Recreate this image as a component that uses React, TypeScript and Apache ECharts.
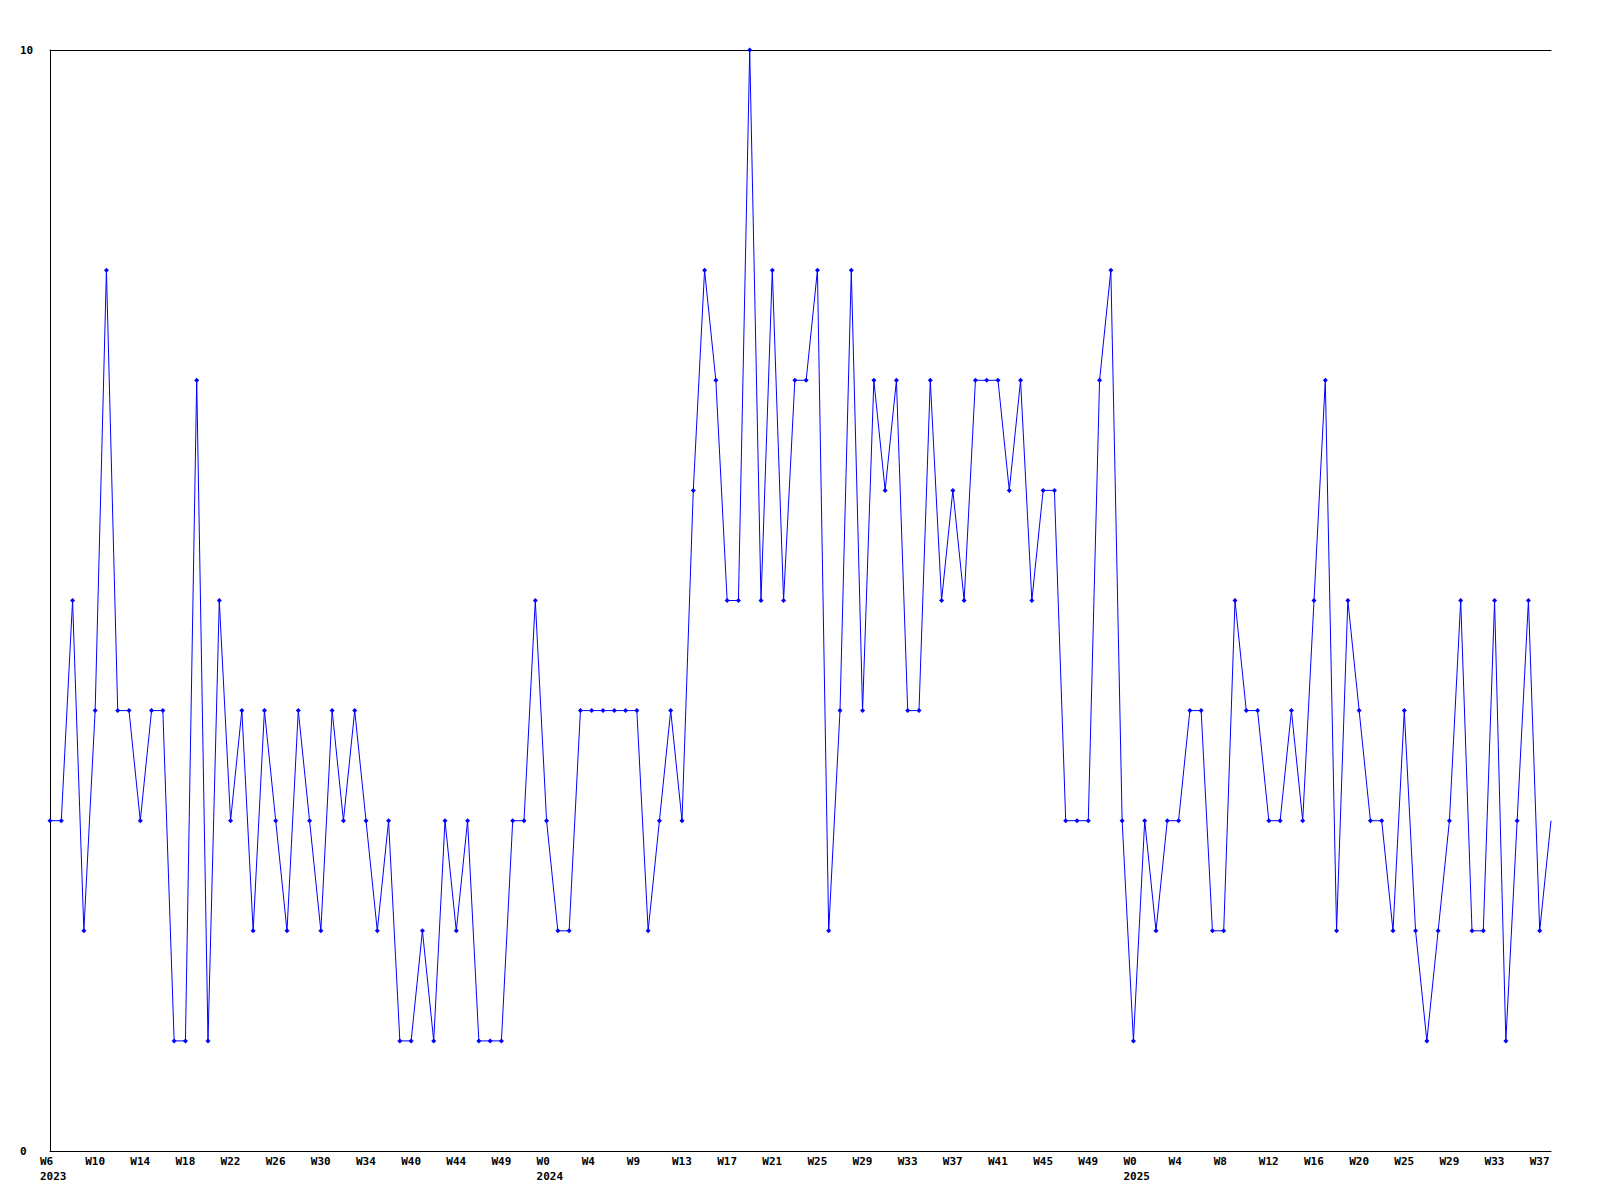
import React, { useEffect, useRef } from "react";
import * as echarts from "echarts";

// Week labels, one per data point (only every 4th is shown on the axis)
const weeks: string[] = [
  "W6", "W7", "W8", "W9", "W10", "W11", "W12", "W13", "W14", "W15", "W16", "W17",
  "W18", "W19", "W20", "W21", "W22", "W23", "W24", "W25", "W26", "W27", "W28", "W29",
  "W30", "W31", "W32", "W33", "W34", "W35", "W37", "W38", "W40", "W41", "W42", "W43",
  "W44", "W45", "W46", "W48", "W49", "W50", "W51", "W52",
  "W0", "W1", "W2", "W3", "W4", "W5", "W7", "W8", "W9", "W10", "W11", "W12",
  "W13", "W14", "W15", "W16", "W17", "W18", "W19", "W20", "W21", "W22", "W23", "W24",
  "W25", "W26", "W27", "W28", "W29", "W30", "W31", "W32", "W33", "W34", "W35", "W36",
  "W37", "W38", "W39", "W40", "W41", "W42", "W43", "W44", "W45", "W46", "W47", "W48",
  "W49", "W50", "W51", "W52",
  "W0", "W1", "W2", "W3", "W4", "W5", "W6", "W7", "W8", "W9", "W10", "W11",
  "W12", "W13", "W14", "W15", "W16", "W17", "W18", "W19", "W20", "W21", "W22", "W24",
  "W25", "W26", "W27", "W28", "W29", "W30", "W31", "W32", "W33", "W34", "W35", "W36",
  "W37", "W38",
];

// Year shown under the first label of each year: [category index, year]
const yearMarks: [number, string][] = [
  [0, "2023"],
  [44, "2024"],
  [96, "2025"],
];

const values: number[] = [
  3, 3, 5, 2, 4, 8, 4, 4, 3, 4, 4, 1, 1, 7, 1, 5, 3, 4, 2, 4, 3, 2, 4, 3,
  2, 4, 3, 4, 3, 2, 3, 1, 1, 2, 1, 3, 2, 3, 1, 1, 1, 3, 3, 5, 3, 2, 2,
  4, 4, 4, 4, 4, 4, 2, 3, 4, 3, 6, 8, 7, 5, 5, 10, 5, 8, 5, 7, 7, 8, 2,
  4, 8, 4, 7, 6, 7, 4, 4, 7, 5, 6, 5, 7, 7, 7, 6, 7, 5, 6, 6, 3, 3, 3,
  7, 8, 3, 1, 3, 2, 3, 3, 4, 4, 2, 2, 5, 4, 4, 3, 3, 4, 3, 5, 7, 2, 5,
  4, 3, 3, 2, 4, 2, 1, 2, 3, 5, 2, 2, 5, 1, 3, 5, 2,
  3,
];

const yMin = 0;
const yMax = 10;

export default function App() {
  const ref = useRef<HTMLDivElement>(null);

  useEffect(() => {
    if (!ref.current) return;
    const chart = echarts.init(ref.current, null, { renderer: "svg" });
    const font = "'DejaVu Sans Mono', 'Liberation Mono', monospace";
    const yearMap: Record<number, string> = {};
    yearMarks.forEach(([i, y]) => (yearMap[i] = y));
    const lastIndex = values.length - 1;

    chart.setOption({
      animation: false,
      backgroundColor: "#ffffff",
      grid: { left: 50, right: 49, top: 50, bottom: 49, containLabel: false },
      xAxis: [
        {
          type: "category",
          data: weeks,
          boundaryGap: false,
          axisLine: { show: true, lineStyle: { color: "#000", width: 1 } },
          axisTick: { show: false },
          splitLine: { show: false },
          axisLabel: {
            interval: 3,
            color: "#000",
            fontFamily: font,
            fontWeight: "bold",
            fontSize: 11,
            lineHeight: 15,
            margin: 3,
            align: "left",
            padding: [0, 0, 0, -10],
            hideOverlap: false,
            formatter: (v: string, i: number) =>
              yearMap[i] !== undefined ? `${v}\n${yearMap[i]}` : v,
          },
        },
        {
          type: "category",
          data: weeks,
          position: "top",
          boundaryGap: false,
          axisLine: { show: true, lineStyle: { color: "#000", width: 1 } },
          axisTick: { show: false },
          axisLabel: { show: false },
          splitLine: { show: false },
        },
      ],
      yAxis: {
        type: "value",
        min: yMin,
        max: yMax,
        interval: 10,
        axisLine: { show: true, lineStyle: { color: "#000", width: 1 } },
        axisTick: { show: false },
        splitLine: { show: false },
        axisLabel: {
          color: "#000",
          fontFamily: font,
          fontWeight: "bold",
          fontSize: 11,
          align: "left",
          margin: 30,
        },
      },
      series: [
        {
          type: "line",
          data: values,
          xAxisIndex: 0,
          symbol: "diamond",
          symbolSize: (_v: number, p: any) => (p.dataIndex === lastIndex ? 0 : 5),
          lineStyle: { color: "#0000ff", width: 1 },
          itemStyle: { color: "#0000ff" },
          emphasis: { disabled: true },
        },
      ],
    });

    return () => chart.dispose();
  }, []);

  return (
    <div
      ref={ref}
      style={{ position: "absolute", left: 0, top: 0, width: 1600, height: 1200, background: "#fff" }}
    />
  );
}
